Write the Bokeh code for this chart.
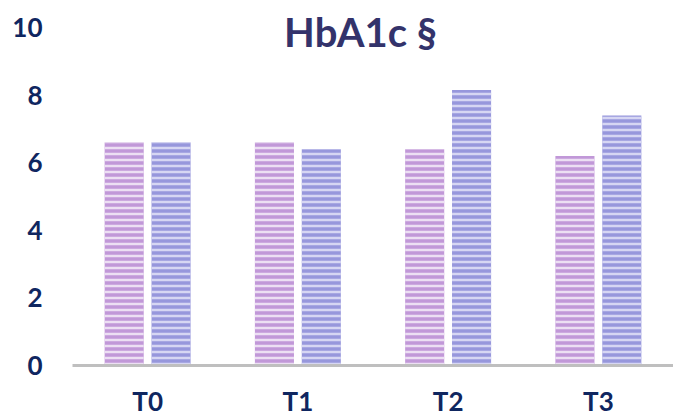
from bokeh.plotting import figure
from bokeh.models import ColumnDataSource, Label, FactorRange
from bokeh.transform import dodge
from bokeh.embed import file_html
from bokeh.resources import INLINE

categories = ["T0", "T1", "T2", "T3"]
series_a = [6.6, 6.6, 6.4, 6.2]
series_b = [6.6, 6.4, 8.15, 7.4]
y_ticks = [0, 2, 4, 6, 8, 10]
title_text = "HbA1c §"

src = ColumnDataSource(data=dict(cat=categories, a=series_a, b=series_b))

p = figure(x_range=FactorRange(*categories, range_padding=0), y_range=(0, 10.8),
           width=673, height=419, output_backend="svg", toolbar_location=None,
           min_border_left=72, min_border_right=0, min_border_top=0, min_border_bottom=54)
p.outline_line_color = None
p.xgrid.grid_line_color = None
p.ygrid.grid_line_color = None
p.background_fill_color = "white"
p.border_fill_color = "white"

common = dict(width=0.26, hatch_pattern="horizontal_line", hatch_scale=6,
              hatch_weight=2.5, line_color=None)
p.vbar(x=dodge("cat", -0.156, range=p.x_range), top="a", source=src,
       fill_color="#c198d8", hatch_color="#ecdff3", **common)
p.vbar(x=dodge("cat", 0.156, range=p.x_range), top="b", source=src,
       fill_color="#9797dc", hatch_color="#d6d6f3", **common)

font = "Lato"
navy = "#0f2660"

for ax in (p.xaxis, p.yaxis):
    ax.major_tick_line_color = None
    ax.minor_tick_line_color = None
    ax.major_tick_out = 0
    ax.major_tick_in = 0
    ax.minor_tick_out = 0
    ax.axis_label_standoff = 0
    ax.major_label_text_font = font
    ax.major_label_text_font_style = "bold"
    ax.major_label_text_font_size = "26px"
    ax.major_label_text_color = navy

p.yaxis.ticker = y_ticks
p.yaxis.axis_line_color = None
p.yaxis.major_label_standoff = 30

p.xaxis.axis_line_color = "#bfbfbf"
p.xaxis.axis_line_width = 3
p.xaxis.major_label_standoff = 19

title = Label(x=288, y=334, x_units="screen", y_units="screen", text=title_text,
              text_font=font, text_font_style="bold", text_font_size="40px",
              text_color="#33336b", text_align="center", text_baseline="middle")
p.add_layout(title)

open("out.html", "w").write(file_html(p, INLINE))
